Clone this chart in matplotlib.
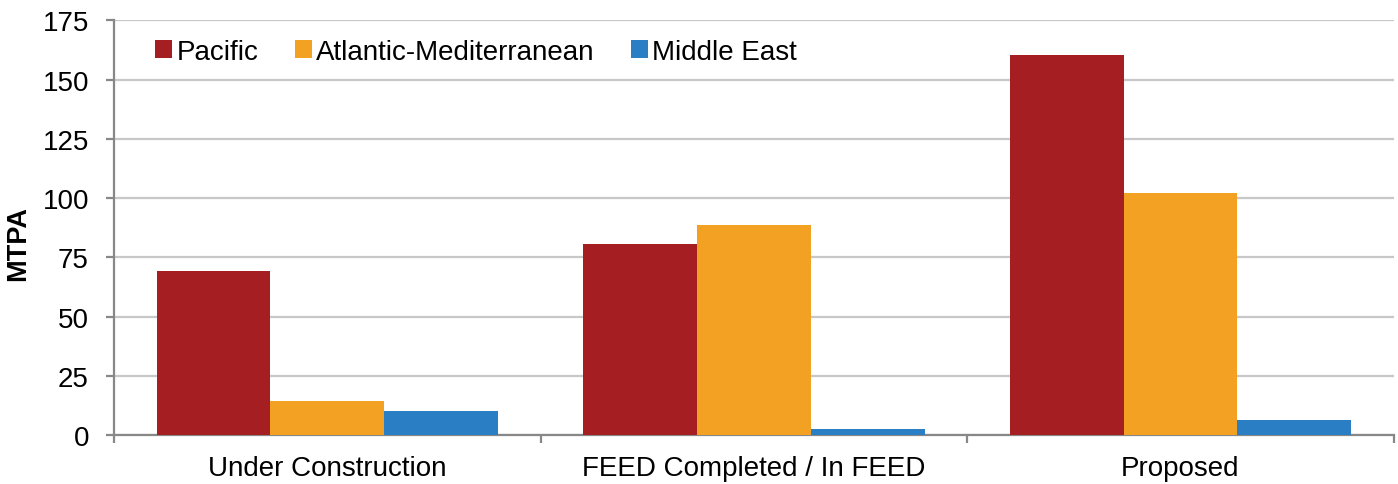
import matplotlib
matplotlib.use("Agg")
import matplotlib.pyplot as plt
import numpy as np

# ── Data (MTPA) ──────────────────────────────────────────────────────────────
categories = ["Under Construction", "FEED Completed / In FEED", "Proposed"]
series_names = ["Pacific", "Atlantic-Mediterranean", "Middle East"]
pacific = [69.2, 80.7, 160.3]
atlantic_med = [14.6, 88.7, 102.2]
middle_east = [10.1, 2.8, 6.5]
y_ticks = [0, 25, 50, 75, 100, 125, 150, 175]

colors = ["#A51E22", "#F2A122", "#2A7FC4"]

plt.rcParams["font.family"] = ["Liberation Sans", "DejaVu Sans"]

fig = plt.figure(figsize=(13.98, 4.85), dpi=100)
ax = fig.add_axes([0.0815, 0.1004, 0.9155, 0.8556])

x = np.arange(len(categories))
width = 0.8 / 3
for i, (name, vals) in enumerate(zip(series_names, [pacific, atlantic_med, middle_east])):
    ax.bar(x + (i - 1) * width, vals, width, color=colors[i], label=name,
           edgecolor="none", zorder=3)

# axes, grid
ax.set_xlim(-0.5, len(categories) - 0.5)
ax.set_ylim(0, 175)
ax.set_yticks(y_ticks)
ax.yaxis.grid(True, color="#c8c8c8", linewidth=1.6, zorder=0)
ax.set_axisbelow(True)
for side in ["top", "right"]:
    ax.spines[side].set_visible(False)
for side in ["left", "bottom"]:
    ax.spines[side].set_color("#888888")
    ax.spines[side].set_linewidth(1.6)

ax.tick_params(axis="y", length=6, width=1.6, color="#888888",
               labelsize=20, pad=12)

# category boundaries as major ticks, labels on minor ticks at centres
ax.set_xticks(np.arange(len(categories) + 1) - 0.5)
ax.set_xticklabels([])
ax.tick_params(axis="x", which="major", length=6, width=1.6, color="#888888")
ax.set_xticks(x, minor=True)
ax.set_xticklabels(categories, minor=True)
ax.tick_params(axis="x", which="minor", length=0, labelsize=20, pad=14)

ax.set_ylabel("MTPA", fontsize=19.5, fontweight="bold")
ax.yaxis.set_label_coords(-0.065, 0.465)

ax.legend(loc="center left", bbox_to_anchor=(0.032, 0.924), ncol=3,
          frameon=False, fontsize=20, borderpad=0, borderaxespad=0,
          handlelength=0.62, handleheight=0.62, handletextpad=0.16,
          columnspacing=1.3)

fig.savefig("out.png", dpi=100)
